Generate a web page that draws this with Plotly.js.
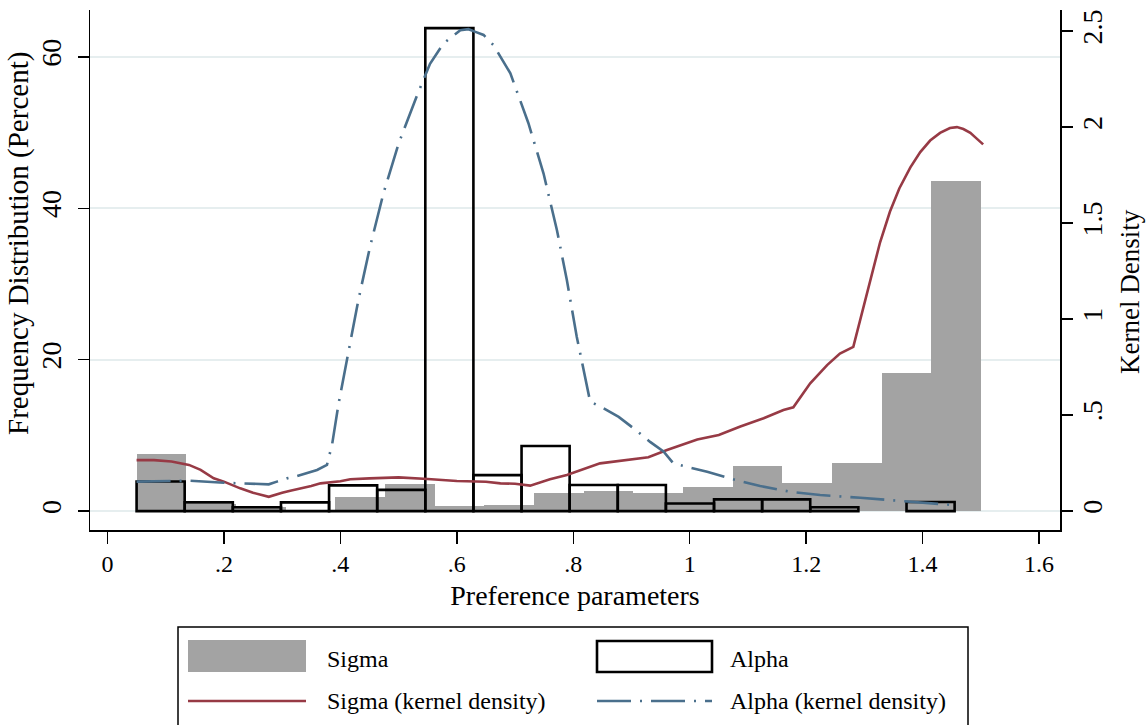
<!DOCTYPE html>
<html>
<head>
<meta charset="utf-8">
<script src="https://cdn.plot.ly/plotly-3.0.1.min.js"></script>
<style>
  html, body { margin: 0; padding: 0; background: #ffffff; }
  #chart { width: 1148px; height: 725px; }
</style>
</head>
<body>
<div id="chart"></div>
<script>
// ---------- DATA ----------
// Histogram bins (bin centres) and frequencies (percent)
const sigmaBinCenters = [0.0926, 0.1779, 0.2632, 0.3485, 0.4338, 0.5191, 0.6044, 0.6897, 0.7750,
                         0.8603, 0.9456, 1.0309, 1.1162, 1.2015, 1.2868, 1.3721, 1.4574];
const sigmaBinWidth = 0.0853;
const sigmaPercent = [7.6, 1.0, 0.6, 0.0, 1.9, 3.6, 0.65, 0.85, 2.35,
                      2.6, 2.4, 3.15, 5.95, 3.65, 6.3, 18.2, 43.6];

const alphaBinCenters = [0.0913, 0.1740, 0.2566, 0.3393, 0.4219, 0.5046, 0.5872, 0.6699, 0.7525,
                         0.8351, 0.9178, 1.0004, 1.0831, 1.1657, 1.2484, 1.3310, 1.4137];
const alphaBinWidth = 0.0826;
const alphaPercent = [3.9, 1.15, 0.5, 1.15, 3.4, 2.8, 63.8, 4.75, 8.6,
                      3.45, 3.45, 1.0, 1.55, 1.55, 0.5, null, 1.2];

// Kernel density estimates
const sigmaKdX = [0.05, 0.08, 0.11, 0.14, 0.16, 0.1825, 0.2, 0.228, 0.25, 0.277, 0.3, 0.314, 0.35,
                  0.366, 0.4, 0.417, 0.45, 0.5, 0.55, 0.6, 0.65, 0.675, 0.7, 0.726, 0.76, 0.789,
                  0.846, 0.9, 0.929, 0.961, 1.013, 1.05, 1.087, 1.127, 1.161, 1.178, 1.207, 1.236,
                  1.258, 1.281, 1.295, 1.31, 1.327, 1.344, 1.36, 1.379, 1.396, 1.413, 1.43, 1.447,
                  1.459, 1.47, 1.482, 1.493, 1.504];
const sigmaKdY = [0.265, 0.265, 0.258, 0.24, 0.214, 0.17, 0.153, 0.118, 0.095, 0.074, 0.095, 0.106, 0.13,
                  0.144, 0.155, 0.165, 0.17, 0.175, 0.167, 0.156, 0.152, 0.144, 0.142, 0.132, 0.165, 0.1875,
                  0.248, 0.27, 0.28, 0.318, 0.373, 0.396, 0.44, 0.483, 0.526, 0.54, 0.665, 0.76,
                  0.82, 0.855, 1.02, 1.2, 1.4, 1.56, 1.68, 1.79, 1.87, 1.93, 1.97, 1.995,
                  2.0, 1.99, 1.97, 1.94, 1.91];

const alphaKdX = [0.05, 0.1, 0.1425, 0.2, 0.24, 0.277, 0.291, 0.308, 0.326, 0.36, 0.377, 0.386, 0.397,
                  0.414, 0.431, 0.451, 0.474, 0.5, 0.532, 0.554, 0.577, 0.606, 0.62, 0.632, 0.646,
                  0.663, 0.692, 0.723, 0.749, 0.772, 0.789, 0.806, 0.824, 0.829, 0.852, 0.878, 0.904,
                  0.932, 0.955, 0.972, 0.995, 1.03, 1.075, 1.121, 1.173, 1.224, 1.293, 1.361, 1.419, 1.453];
const alphaKdY = [0.153, 0.156, 0.158, 0.147, 0.144, 0.139, 0.153, 0.17, 0.182, 0.214, 0.24, 0.35, 0.56,
                  0.84, 1.10, 1.377, 1.655, 1.914, 2.167, 2.33, 2.435, 2.505, 2.51, 2.496, 2.48,
                  2.427, 2.28, 2.02, 1.758, 1.463, 1.203, 0.908, 0.63, 0.57, 0.535, 0.49, 0.43,
                  0.36, 0.31, 0.248, 0.23, 0.205, 0.165, 0.13, 0.10, 0.083, 0.069, 0.054, 0.04, 0.031];

// Axis ticks
const xTickVals = [0, 0.2, 0.4, 0.6, 0.8, 1.0, 1.2, 1.4, 1.6];
const xTickText = ['0', '.2', '.4', '.6', '.8', '1', '1.2', '1.4', '1.6'];
const yTickVals = [0, 20, 40, 60];
const yTickText = ['0', '20', '40', '60'];
const y2TickVals = [0, 0.5, 1, 1.5, 2, 2.5];
const y2TickText = ['0', '.5', '1', '1.5', '2', '2.5'];

const seriesNames = ['Sigma', 'Alpha', 'Sigma (kernel density)', 'Alpha (kernel density)'];
const xTitle = 'Preference parameters';
const yTitle = 'Frequency Distribution (Percent)';
const y2Title = 'Kernel Density';

// ---------- STYLE ----------
const FONT = 'Liberation Serif, Times New Roman, serif';
const GRAY = '#a3a3a3';
const RED = '#973a45';
const BLUE = '#4a6f8c';
const GRID = '#e6eeef';
const DASHDOT = '34px,9px,2px,9px';

const W = 1148, H = 725;
const M = {l: 90, r: 88, t: 10, b: 195};
const PW = W - M.l - M.r, PH = H - M.t - M.b;
// pixel -> paper helpers (for legend / title placement only)
const px = v => (v - M.l) / PW;
const py = v => (H - M.b - v) / PH;

const traces = [
  {
    type: 'bar', name: seriesNames[0], x: sigmaBinCenters, y: sigmaPercent, width: sigmaBinWidth,
    marker: {color: GRAY, line: {width: 0}}, yaxis: 'y', showlegend: false
  },
  {
    type: 'bar', name: seriesNames[1], x: alphaBinCenters, y: alphaPercent, width: alphaBinWidth,
    marker: {color: 'rgba(0,0,0,0)', line: {color: '#000000', width: 2.6}}, yaxis: 'y', showlegend: false
  },
  {
    type: 'scatter', mode: 'lines', name: seriesNames[2], x: sigmaKdX, y: sigmaKdY, yaxis: 'y2',
    line: {color: RED, width: 2.6}, showlegend: false
  },
  {
    type: 'scatter', mode: 'lines', name: seriesNames[3], x: alphaKdX, y: alphaKdY, yaxis: 'y2',
    line: {color: BLUE, width: 2.6, dash: DASHDOT}, showlegend: false
  }
];

// Manual legend (box, keys, labels)
const shapes = [
  {type: 'rect', xref: 'paper', yref: 'paper', x0: px(178), x1: px(968), y0: py(740), y1: py(627),
   line: {color: '#000000', width: 1.5}, fillcolor: 'rgba(0,0,0,0)'},
  {type: 'rect', xref: 'paper', yref: 'paper', x0: px(188), x1: px(306), y0: py(672), y1: py(640),
   line: {width: 0}, fillcolor: GRAY},
  {type: 'rect', xref: 'paper', yref: 'paper', x0: px(597), x1: px(712), y0: py(672), y1: py(641),
   line: {color: '#000000', width: 2.6}, fillcolor: '#ffffff'},
  {type: 'line', xref: 'paper', yref: 'paper', x0: px(188), x1: px(306), y0: py(701), y1: py(701),
   line: {color: RED, width: 2.6}},
  {type: 'line', xref: 'paper', yref: 'paper', x0: px(597), x1: px(712), y0: py(701), y1: py(701),
   line: {color: BLUE, width: 2.6, dash: DASHDOT}}
];

const legendFont = {family: FONT, size: 24, color: '#000000'};
const annotations = [
  {xref: 'paper', yref: 'paper', x: px(325), y: py(659), text: seriesNames[0], showarrow: false,
   xanchor: 'left', yanchor: 'middle', font: legendFont},
  {xref: 'paper', yref: 'paper', x: px(728), y: py(659), text: seriesNames[1], showarrow: false,
   xanchor: 'left', yanchor: 'middle', font: legendFont},
  {xref: 'paper', yref: 'paper', x: px(325), y: py(701), text: seriesNames[2], showarrow: false,
   xanchor: 'left', yanchor: 'middle', font: legendFont},
  {xref: 'paper', yref: 'paper', x: px(728), y: py(701), text: seriesNames[3], showarrow: false,
   xanchor: 'left', yanchor: 'middle', font: legendFont},
  // axis titles placed like the original
  {xref: 'paper', yref: 'paper', x: px(19), y: py(244), text: yTitle, showarrow: false, textangle: -90,
   xanchor: 'center', yanchor: 'middle', font: {family: FONT, size: 29, color: '#000000'}},
  {xref: 'paper', yref: 'paper', x: px(1130), y: py(292), text: y2Title, showarrow: false, textangle: -90,
   xanchor: 'center', yanchor: 'middle', font: {family: FONT, size: 27, color: '#000000'}}
];

const layout = {
  width: W, height: H,
  margin: M,
  paper_bgcolor: '#ffffff', plot_bgcolor: '#ffffff',
  barmode: 'overlay', bargap: 0,
  showlegend: false,
  font: {family: FONT, color: '#000000'},
  xaxis: {
    range: [-0.03, 1.636],
    tickvals: xTickVals, ticktext: xTickText,
    ticks: 'outside', ticklen: 12, tickwidth: 1.5, tickcolor: '#000000',
    showline: true, linecolor: '#000000', linewidth: 1.5,
    showgrid: false, zeroline: false,
    tickfont: {family: FONT, size: 24, color: '#000000'},
    title: {text: xTitle, font: {family: FONT, size: 28, color: '#000000'}, standoff: 9}
  },
  yaxis: {
    range: [-2.5, 66.2],
    tickvals: yTickVals, ticktext: yTickText, tickangle: -90,
    ticks: 'outside', ticklen: 11, tickwidth: 1.5, tickcolor: '#000000',
    ticklabelstandoff: 5,
    showline: true, linecolor: '#000000', linewidth: 1.5,
    showgrid: true, gridcolor: GRID, gridwidth: 2, zeroline: false,
    tickfont: {family: FONT, size: 28, color: '#000000'}
  },
  yaxis2: {
    overlaying: 'y', side: 'right',
    range: [-0.099, 2.61],
    tickvals: y2TickVals, ticktext: y2TickText, tickangle: -90,
    ticks: 'outside', ticklen: 11, tickwidth: 1.5, tickcolor: '#000000',
    ticklabelstandoff: -4,
    showline: true, linecolor: '#000000', linewidth: 1.5,
    showgrid: false, zeroline: false,
    tickfont: {family: FONT, size: 28, color: '#000000'}
  },
  shapes: shapes,
  annotations: annotations
};

Plotly.newPlot('chart', traces, layout, {displayModeBar: false, staticPlot: true});
</script>
</body>
</html>
